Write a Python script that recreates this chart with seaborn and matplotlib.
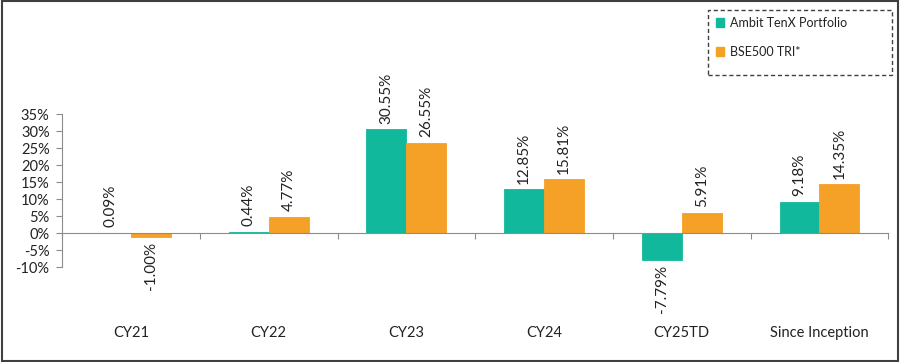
import matplotlib
matplotlib.use("Agg")
import matplotlib.pyplot as plt
import matplotlib.patches as mpatches
import seaborn as sb
import pandas as pd
import numpy as np

categories = ['CY21', 'CY22', 'CY23', 'CY24', 'CY25TD', 'Since Inception']
tenx = [0.09, 0.44, 30.55, 12.85, -7.79, 9.18]
bse500 = [-1.00, 4.77, 26.55, 15.81, 5.91, 14.35]
series = ['Ambit TenX Portfolio', 'BSE500 TRI*']
yticks = [-10, -5, 0, 5, 10, 15, 20, 25, 30, 35]

teal = '#12B89C'
orange = '#F5A026'

df = pd.DataFrame({
    'cat': categories * 2,
    'val': tenx + bse500,
    'series': [series[0]] * len(categories) + [series[1]] * len(categories),
})

sb.set_style('white')
plt.rcParams['font.family'] = ['Lato', 'DejaVu Sans']

fig = plt.figure(figsize=(9, 3.62), dpi=100)
ax = fig.add_axes([0.069, 0.262, 0.918, 0.423])

sb.barplot(data=df, x='cat', y='val', hue='series', order=categories,
           hue_order=series, palette=[teal, orange], width=0.58,
           saturation=1, ax=ax, legend=False)

# no white outlines, but keep the tiny bars visible as thin lines
for p in ax.patches:
    p.set_edgecolor(p.get_facecolor())
    p.set_linewidth(0.6)

for cont in ax.containers:
    ax.bar_label(cont, labels=[f'{v:.2f}%' for v in cont.datavalues],
                 rotation=90, padding=4, fontsize=11, color='#222222')

ax.set_ylim(-10, 35)
ax.set_xlim(-0.5, len(categories) - 0.5)
ax.set_yticks(yticks)
ax.set_yticklabels([f'{t}%' for t in yticks], fontsize=10.5, color='#222222')
ax.set_xlabel('')
ax.set_ylabel('')

for s in ['top', 'right']:
    ax.spines[s].set_visible(False)
ax.spines['left'].set_color('#8c8c8c')
ax.spines['left'].set_linewidth(0.8)
ax.spines['bottom'].set_position(('data', 0))
ax.spines['bottom'].set_color('#8c8c8c')
ax.spines['bottom'].set_linewidth(0.8)

ax.tick_params(axis='y', left=True, length=4, width=0.8, color='#8c8c8c', pad=5)
ax.set_xticks(np.arange(len(categories)))
ax.set_xticklabels(categories, fontsize=10.5, color='#222222')
ax.tick_params(axis='x', which='major', bottom=False, length=0, pad=67)
ax.set_xticks(np.arange(len(categories) + 1) - 0.5, minor=True)
ax.tick_params(axis='x', which='minor', bottom=True, length=4, width=0.8,
               color='#8c8c8c', direction='out')

# legend: entries without frame, dashed box drawn separately
handles = [mpatches.Patch(color=teal, label=series[0]),
           mpatches.Patch(color=orange, label=series[1])]
leg = fig.legend(handles=handles, loc='upper left', bbox_to_anchor=(716 / 900, 1 - 17 / 362),
                 fontsize=9, frameon=False, handlelength=0.65, handleheight=0.65,
                 handletextpad=0.45, labelspacing=1.35, borderpad=0, borderaxespad=0)
for t in leg.get_texts():
    t.set_color('#222222')

fig.patches.append(mpatches.Rectangle((708 / 900, 1 - 75 / 362), 184 / 900, 65 / 362,
                                      transform=fig.transFigure, fill=False,
                                      edgecolor='#404040', linewidth=1.0,
                                      linestyle=(0, (3, 2))))

fig.patches.append(mpatches.Rectangle((0.002, 0.004), 0.996, 0.992, transform=fig.transFigure,
                                      fill=False, edgecolor='#404040', linewidth=1.5))

fig.savefig('out.png', dpi=100)
